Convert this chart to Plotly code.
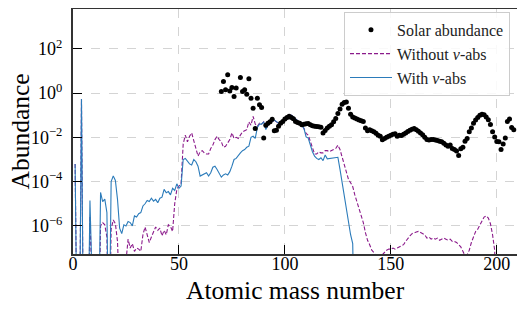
import numpy as np
import plotly.graph_objects as go

# ---------------- data (log10 of abundance) ----------------
solar_A = [70, 71, 72, 73, 74, 75, 76, 77, 79, 80, 81, 82, 83, 84, 85, 86, 87, 88, 89, 90,
           91, 92, 93, 94, 95, 96, 97, 98, 99, 100, 101, 102, 103, 104, 105, 106, 107, 108, 109, 110,
           111, 112, 113, 114, 115, 116, 117, 118, 119, 120, 121, 122, 123, 124, 125, 126, 127, 128, 129, 130,
           131, 132, 133, 134, 135, 136, 137, 138, 139, 140, 141, 142, 143, 144, 145, 146, 147, 148, 149, 150,
           151, 152, 153, 154, 155, 156, 157, 158, 159, 160, 161, 162, 163, 164, 165, 166, 167, 168, 169, 170,
           171, 172, 173, 174, 175, 176, 177, 178, 179, 180, 181, 182, 183, 184, 185, 186, 187, 188, 189, 190,
           191, 192, 193, 194, 195, 196, 197, 198, 199, 200, 201, 202, 203, 204, 205, 206, 207, 208]
solar_log = [0.07, 0.52, 0.15, 0.83, 0.10, 0.25, -0.15, 0.23, 0.70, 0.07, 0.15, -0.05, 0.65, -0.23, -0.68, -1.60, -0.23, -0.53, -0.65, -2.03,
             -1.45, -1.36, -1.30, -1.18, -1.70, -1.68, -1.50, -1.36, -1.28, -1.17, -1.10, -1.05, -1.10, -1.16, -1.28, -1.33, -1.36, -1.43, -1.41, -1.38,
             -1.37, -1.43, -1.47, -1.50, -1.51, -1.52, -1.54, -1.80, -1.69, -1.58, -1.50, -1.43, -1.30, -1.15, -0.92, -0.72, -0.50, -0.42, -0.40, -0.68,
             -0.95, -1.08, -1.13, -1.17, -1.21, -1.25, -1.28, -1.58, -1.70, -1.66, -1.70, -1.75, -1.81, -1.90, -1.95, -2.11, -2.05, -2.00, -1.95, -1.90,
             -1.86, -1.84, -1.95, -1.90, -1.92, -1.86, -1.80, -1.74, -1.68, -1.63, -1.60, -1.66, -1.72, -1.80, -1.88, -2.00, -2.10, -2.12, -2.10, -2.10,
             -2.12, -2.14, -2.17, -2.20, -2.27, -2.34, -2.40, -2.35, -2.50, -2.55, -2.62, -2.82, -2.52, -2.45, -2.18, -2.05, -1.75, -1.58, -1.36, -1.22,
             -1.10, -1.00, -0.96, -0.98, -1.08, -1.20, -1.42, -1.75, -1.98, -2.19, -2.20, -2.55, -2.30, -2.03, -1.28, -1.17, -1.55, -1.66]

# "Without nu-abs", A = 1, 2, 3, ...  (-12 = far below the axis range)
without_log = [-3.2, -12, -12, -0.27, -12, -12, -12, -5.57, -12, -12,
               -12, -12, -6.0, -5.85, -5.95, -6.5, -12, -6.15, -5.73, -5.9,
               -6.7, -12, -12, -12, -7.6, -6.6, -7.0, -6.8, -7.15, -7.0,
               -7.05, -7.15, -6.4, -6.05, -6.35, -6.75, -6.5, -6.3, -6.05, -6.2,
               -6.1, -6.45, -6.2, -6.4, -5.95, -6.03, -6.25, -5.0, -4.35, -4.2,
               -4.1, -2.3, -1.9, -2.2, -1.95, -1.8, -2.1, -2.5, -2.85, -2.65,
               -2.6, -2.7, -2.75, -2.75, -2.5, -2.35, -2.1, -1.95, -2.1, -2.2,
               -2.45, -2.4, -2.25, -2.1, -1.8, -2.05, -2.0, -2.05, -1.9, -1.75,
               -1.7, -1.65, -1.3, -1.45, -1.05, -1.4, -1.5, -1.36, -1.4, -1.3,
               -1.62, -1.45, -1.35, -1.28, -1.22, -1.3, -1.36, -1.3, -1.25, -1.15,
               -1.1, -1.02, -1.0, -1.08, -1.15, -1.25, -1.35, -1.45, -1.6, -1.82,
               -1.9, -2.2, -2.55, -2.75, -2.75, -2.65, -2.7, -2.7, -2.6, -2.6,
               -2.65, -2.58, -2.55, -2.5, -2.35, -2.55, -2.9, -3.2, -3.5, -3.9,
               -4.05, -4.22, -4.6, -4.9, -5.15, -5.55, -5.85, -6.3, -6.65, -6.85,
               -7.1, -7.2, -7.4, -7.5, -7.4, -7.3, -7.2, -7.1, -7.05, -7.05,
               -7.0, -7.05, -7.0, -6.95, -6.9, -6.85, -6.7, -6.55, -6.45, -6.35,
               -6.3, -6.28, -6.25, -6.3, -6.35, -6.4, -6.55, -6.5, -6.6, -6.55,
               -6.6, -6.55, -6.65, -6.6, -6.55, -6.6, -6.65, -6.6, -6.7, -6.7,
               -6.75, -6.85, -6.95, -7.15, -7.35, -7.3, -7.1, -6.75, -6.45, -6.25,
               -6.15, -5.95, -5.75, -5.6, -5.55, -5.65, -5.9, -6.4, -7.1, -12]

# "With nu-abs", A = 1, 2, 3, ...
with_log = [-3.2, -12, -12, -0.27, -12, -12, -12, -4.85, -12, -12,
            -12, -12, -4.49, -4.9, -4.79, -5.4, -12, -4.0, -3.74, -3.95,
            -4.8, -6.1, -6.35, -5.95, -6.0, -5.8, -5.85, -6.0, -5.55, -5.6,
            -5.45, -5.4, -5.1, -5.0, -4.85, -4.9, -4.75, -4.88, -4.8, -4.95,
            -4.75, -4.7, -4.35, -4.5, -4.45, -4.6, -4.3, -4.4, -4.1, -4.3,
            -4.2, -3.0, -2.95, -3.1, -3.2, -3.25, -3.0, -3.1, -3.3, -3.75,
            -3.7, -3.65, -3.6, -3.75, -3.6, -3.35, -3.3, -3.45, -3.6, -3.8,
            -3.7, -3.65, -3.7, -3.55, -3.3, -3.0, -2.95, -2.8, -2.7, -2.6,
            -2.55, -2.45, -2.4, -2.0, -1.95, -2.05, -1.55, -1.4, -1.4, -1.3,
            -1.65, -1.45, -1.35, -1.28, -1.22, -1.3, -1.36, -1.3, -1.25, -1.15,
            -1.1, -1.02, -1.0, -1.08, -1.15, -1.25, -1.35, -1.45, -1.6, -1.98,
            -2.03, -2.35, -2.65, -2.85, -2.95, -3.0, -2.92, -3.05, -2.8, -2.97,
            -2.95, -2.93, -2.93, -2.92, -2.9, -3.45, -4.05, -4.7, -5.3, -6.0,
            -6.4, -6.8, -12]

without_A = list(range(1, len(without_log) + 1))
with_A = list(range(1, len(with_log) + 1))

x_ticks = [0, 50, 100, 150, 200]
y_ticks = [1e-6, 1e-4, 1e-2, 1e0, 1e2]
y_tick_text = ["10<sup>−6</sup>", "10<sup>−4</sup>", "10<sup>−2</sup>", "10<sup>0</sup>", "10<sup>2</sup>"]

# ---------------- figure ----------------
FONT = "Liberation Serif"
fig = go.Figure()

fig.add_trace(go.Scatter(
    x=without_A, y=np.power(10.0, without_log), mode="lines",
    name="Without <i>ν</i>-abs", legendrank=2,
    line=dict(color="#8b1a8b", width=1.1, dash="4px,2px")))
fig.add_trace(go.Scatter(
    x=with_A, y=np.power(10.0, with_log), mode="lines",
    name="With <i>ν</i>-abs", legendrank=3,
    line=dict(color="#2b7bba", width=1.1)))
fig.add_trace(go.Scatter(
    x=solar_A, y=np.power(10.0, solar_log), mode="markers",
    name="Solar abundance", legendrank=1,
    marker=dict(color="black", size=5)))

axis_common = dict(
    showline=True, linecolor="#333333", linewidth=2, mirror=True,
    ticks="inside", ticklen=9, tickwidth=1.2, tickcolor="black",
    showgrid=True, gridcolor="#d4d4d4", gridwidth=0.8, griddash="dash",
    zeroline=False, automargin=False,
    tickfont=dict(family=FONT, size=18, color="black"),
)

fig.update_xaxes(
    range=[0, 210], tickvals=x_ticks, ticktext=[str(v) for v in x_ticks],
    ticklabelstandoff=-8,
    **axis_common)
fig.update_yaxes(
    type="log", range=[-7.27, 3.80], tickvals=y_ticks, ticktext=y_tick_text,
    ticklabelstandoff=5,
    **axis_common)

# axis titles as annotations (precise placement)
fig.add_annotation(text="Atomic mass number", xref="paper", yref="paper", x=0.5, y=0,
                   xanchor="center", yanchor="middle", yshift=-36, showarrow=False,
                   font=dict(family=FONT, size=25.5, color="black"))
fig.add_annotation(text="Abundance", xref="paper", yref="paper", x=0, y=0.5,
                   xanchor="center", yanchor="middle", xshift=-53, textangle=-90, showarrow=False,
                   font=dict(family=FONT, size=25.5, color="black"))

# the page body has an 8 px margin, so the figure is sized to fit the 525x309 window
fig.update_layout(
    width=517, height=301, autosize=False,
    margin=dict(l=65, r=7, t=1, b=55),
    paper_bgcolor="white", plot_bgcolor="white",
    font=dict(family=FONT, color="black", size=17),
    showlegend=True,
    legend=dict(
        x=0.982, y=0.988, xanchor="right", yanchor="top",
        bgcolor="rgba(255,255,255,0.85)", bordercolor="#cccccc", borderwidth=1,
        font=dict(family=FONT, size=16, color="#222222"),
        tracegroupgap=0, itemwidth=42,
    ),
)

fig.write_html("out.html")
